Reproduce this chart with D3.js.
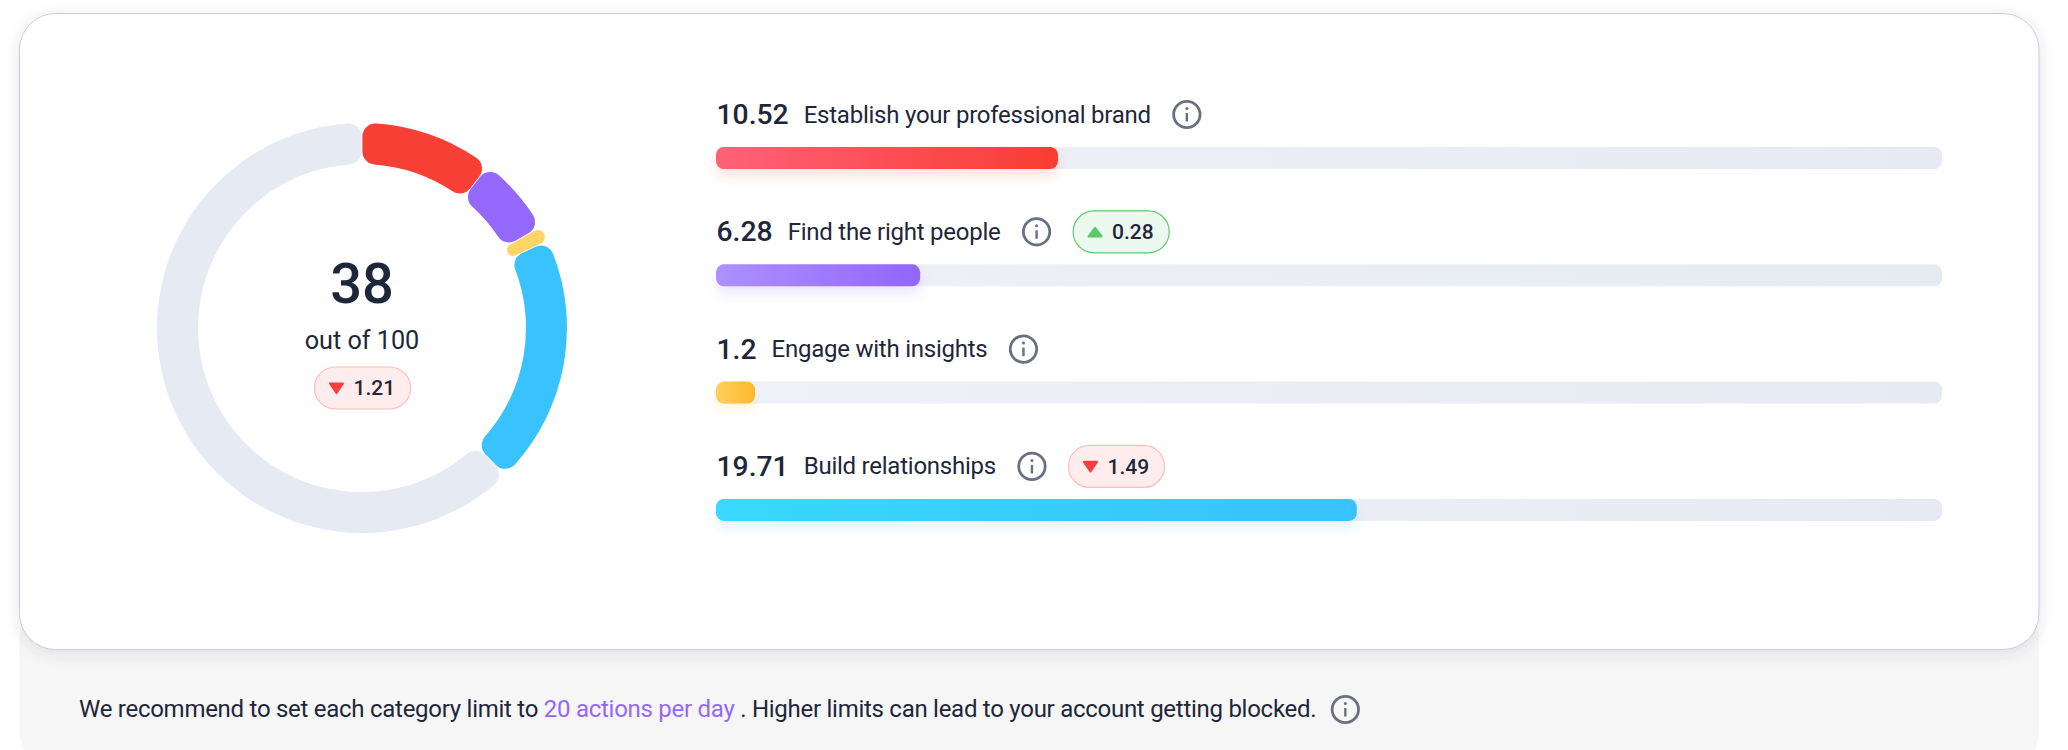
<!DOCTYPE html>
<html><head><meta charset="utf-8">
<script src="https://cdn.jsdelivr.net/npm/d3@7"></script>
<style>
html,body{margin:0;padding:0;background:#fff;overflow:hidden}
svg{display:block;font-family:Roboto,sans-serif}
</style></head><body><svg id="c" width="2068" height="750"></svg>
<script>
const categories=["Establish your professional brand","Find the right people","Engage with insights","Build relationships"];
const values=[10.52,6.28,1.2,19.71];
const deltas=[null,0.28,null,-1.49];
const solidColors=["#f83f35","#9468fb","#ffd467","#38c3ff"];
const gradStart=["#ff6178","#ae90ff","#ffd05c","#38d9ff"];
const gradEnd=["#f93d32","#9265fb","#ffb82e","#38c1ff"];
const score=38, scoreMax=100, scoreDelta=-1.21;
const restColor="#e6ebf3";
const ink="#1e2639";

const svg=d3.select("#c");
const defs=svg.append("defs");
const card=defs.append("filter").attr("id","cardShadow").attr("x","-5%").attr("y","-10%").attr("width","110%").attr("height","120%");
card.append("feDropShadow").attr("dx",0).attr("dy",3).attr("stdDeviation",7).attr("flood-color","#3a4060").attr("flood-opacity",0.14);
const trackGrad=defs.append("linearGradient").attr("id","track");
trackGrad.append("stop").attr("offset","0%").attr("stop-color","#eff1f8");
trackGrad.append("stop").attr("offset","100%").attr("stop-color","#e6eaf2");

svg.append("rect").attr("x",19.5).attr("y",600).attr("width",2019.5).attr("height",168).attr("rx",36).attr("fill","#f6f6f7");
svg.append("rect").attr("x",19.5).attr("y",13.5).attr("width",2019.5).attr("height",636).attr("rx",36)
  .attr("fill","#fff").attr("stroke","#c9ccdb").attr("stroke-width",1).attr("filter","url(#cardShadow)");

// Donut
const cx=362,cy=328,R=205,r=164;
const pie=d3.pie().sort(null).value(d=>d)(values.concat([scoreMax-d3.sum(values)]));
const arc=d3.arc().innerRadius(r).outerRadius(R).cornerRadius(13).padAngle(0.003);
const donut=svg.append("g").attr("transform",`translate(${cx},${cy})`);
donut.selectAll("path").data(pie).join("path").attr("d",arc)
  .attr("fill",(d,i)=>i<4?solidColors[i]:restColor);

const centerTxt=svg.append("g").attr("text-anchor","middle").attr("fill",ink);
centerTxt.append("text").attr("x",cx).attr("y",302.5).attr("font-size",56).attr("font-weight",500).text(score);
centerTxt.append("text").attr("x",cx).attr("y",348.5).attr("font-size",25.2).text("out of "+scoreMax);

function badge(g,x,yc,delta){
  const up=delta>0, h=43;
  const b=g.append("g");
  const label=Math.abs(delta).toFixed(2);
  const t=b.append("text").attr("x",x+39.5).attr("y",yc+7.4).attr("font-size",21).attr("font-weight",500).attr("fill",ink).text(label);
  const w=39.5+t.node().getComputedTextLength()+16;
  b.insert("rect","text").attr("x",x+.5).attr("y",yc-h/2+.5).attr("width",w-1).attr("height",h-1).attr("rx",(h-1)/2)
    .attr("fill",up?"#ebf9ee":"#ffecec").attr("stroke",up?"#5ccb6a":"#ffbcbc").attr("stroke-width",1.2);
  const tx=x+22.5, s=6.5;
  b.append("path").attr("d",up
    ?`M${tx-s},${yc+4.5}L${tx+s},${yc+4.5}L${tx},${yc-4}Z`
    :`M${tx-s},${yc-4.5}L${tx+s},${yc-4.5}L${tx},${yc+5}Z`)
    .attr("fill",up?"#5cc96a":"#f93e3e").attr("stroke",up?"#5cc96a":"#f93e3e").attr("stroke-width",2.2).attr("stroke-linejoin","round");
  return w;
}
function info(g,x,y){
  const i=g.append("g").attr("transform",`translate(${x},${y})`).attr("stroke","#69707f").attr("fill","none");
  i.append("circle").attr("r",13.2).attr("stroke-width",2.8);
  i.append("line").attr("y1",-1.5).attr("y2",7).attr("stroke-width",2.4);
  i.append("circle").attr("cy",-6).attr("r",1.5).attr("fill","#69707f").attr("stroke","none");
}
badge(svg.append("g"),314,388,scoreDelta);

// Bars
const x=d3.scaleLinear().domain([0,d3.sum(values)]).range([716,1942]);
const y=d3.scaleBand().domain(categories).range([147,147+117.3*4]).paddingInner(0);
const barH=22;
const rows=svg.append("g").selectAll("g").data(categories).join("g")
  .attr("transform",d=>`translate(0,${y(d)})`);
rows.each(function(cat,i){
  const g=d3.select(this);
  const grad=defs.append("linearGradient").attr("id","bar"+i);
  grad.append("stop").attr("offset","0%").attr("stop-color",gradStart[i]);
  grad.append("stop").attr("offset","100%").attr("stop-color",gradEnd[i]);
  const fl=defs.append("filter").attr("id","barShadow"+i).attr("x","-10%").attr("y","-60%").attr("width","120%").attr("height","260%");
  fl.append("feDropShadow").attr("dx",0).attr("dy",7).attr("stdDeviation",6).attr("flood-color",gradEnd[i]).attr("flood-opacity",0.16);
  g.append("rect").attr("x",x(0)).attr("y",0).attr("width",x.range()[1]-x(0)).attr("height",barH).attr("rx",8).attr("fill","url(#track)");
  g.append("rect").attr("x",x(0)).attr("y",0).attr("width",x(values[i])-x(0)).attr("height",barH).attr("rx",8)
    .attr("fill",`url(#bar${i})`).attr("filter",`url(#barShadow${i})`);
  const yc=-32.5;
  const v=g.append("text").attr("x",x(0)+.5).attr("y",yc+9.5).attr("font-size",28.3).attr("font-weight",500).attr("fill",ink).text(values[i]);
  const lx=x(0)+.5+v.node().getComputedTextLength()+15;
  const l=g.append("text").attr("x",lx).attr("y",yc+8).attr("font-size",24).attr("letter-spacing",-0.24).attr("fill",ink).text(cat);
  const ix=lx+l.node().getComputedTextLength()+36;
  info(g,ix,yc);
  if(deltas[i]!=null) badge(g,ix+36,yc,deltas[i]);
});

// Footer note
const note=svg.append("text").attr("x",79).attr("y",717).attr("font-size",24).attr("letter-spacing",-0.27).attr("fill",ink);
note.append("tspan").text("We recommend to set each category limit to ");
note.append("tspan").attr("fill","#9468fb").text("20 actions per day");
note.append("tspan").text(" . Higher limits can lead to your account getting blocked.");
info(svg,79+note.node().getComputedTextLength()+29,709.5);
</script></body></html>
